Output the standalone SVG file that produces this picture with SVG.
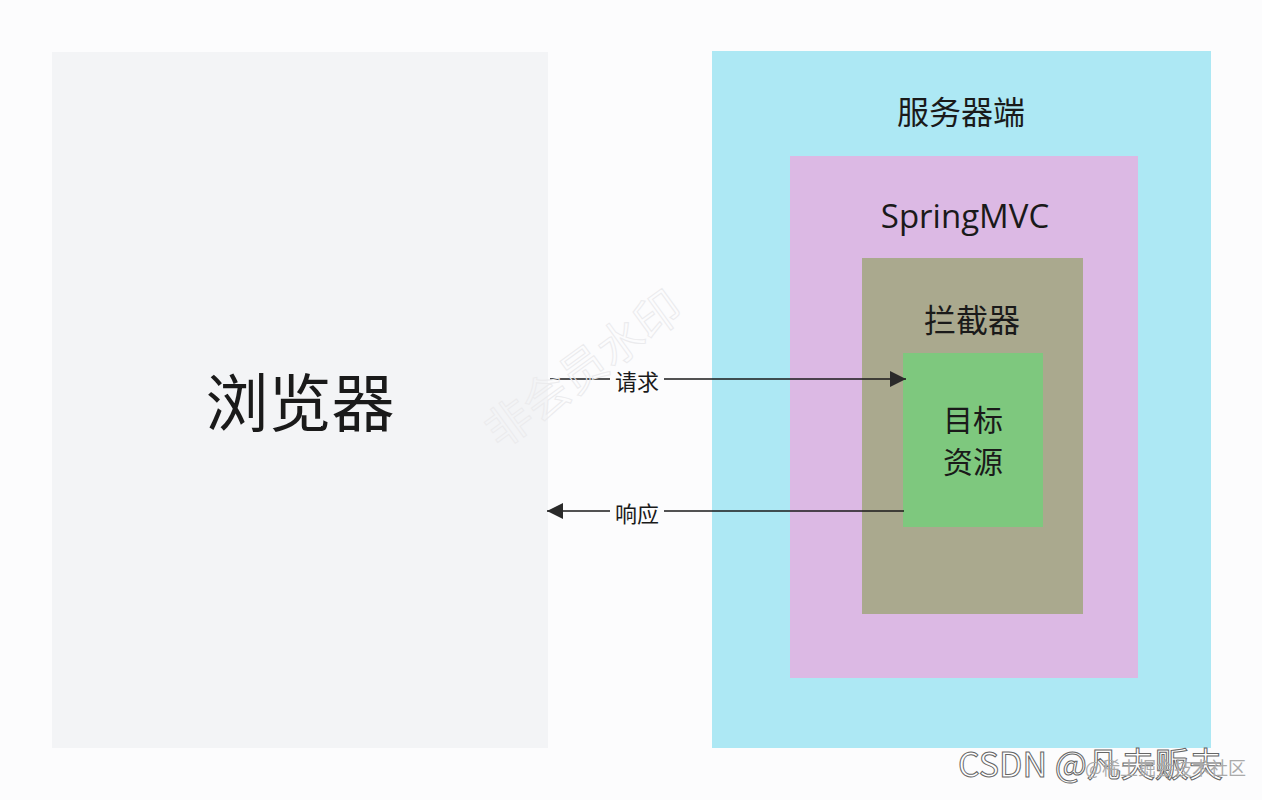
<svg xmlns="http://www.w3.org/2000/svg" width="1262" height="800" viewBox="0 0 1262 800">
<style>
.t{font-family:"Noto Sans CJK SC","Noto Sans",sans-serif;fill:#1a1a1a;text-anchor:middle}
.lbl{font-family:"Noto Sans CJK SC",sans-serif;font-size:22px;fill:#1a1a1a;text-anchor:middle}
.ln{stroke:#1a1a1a;stroke-width:1.6;fill:none}
</style>
<defs>
<marker id="ah" viewBox="0 0 10 10" refX="10" refY="5" markerWidth="26" markerHeight="16" markerUnits="userSpaceOnUse" orient="auto">
<path d="M0,0 L10,5 L0,10 Z" fill="#2a2a2a"/>
</marker>
</defs>
<rect width="1262" height="800" fill="#fcfcfd"/>
<g id="browser">
<rect x="52" y="52" width="496" height="696" fill="#f3f4f6"/>
<text class="t" x="300" y="426" font-size="63">浏览器</text>
</g>
<g id="server">
<rect x="712" y="51" width="499" height="697" fill="#ade8f4"/>
<text class="t" x="961" y="124" font-size="32">服务器端</text>
</g>
<g id="springmvc">
<rect x="790" y="156" width="348" height="522" fill="#dcb9e4"/>
<text class="t" x="965" y="228" font-size="33" style="font-family:'Open Sans','Noto Sans',sans-serif">SpringMVC</text>
</g>
<g id="interceptor">
<rect x="862" y="258" width="221" height="356" fill="#aaa98e"/>
<text class="t" x="972" y="332" font-size="32">拦截器</text>
</g>
<g id="target">
<rect x="903" y="353" width="140" height="174" fill="#7ec87e"/>
<text class="t" x="973" y="431" font-size="30">目标</text>
<text class="t" x="973" y="473" font-size="30">资源</text>
</g>
<g id="connectors">
<path class="ln" d="M550,379 H906" marker-end="url(#ah)"/>
<rect x="610" y="366" width="54" height="26" fill="#fcfcfd"/>
<text class="lbl" x="637" y="390">请求</text>
<path class="ln" d="M904,511 H547" marker-end="url(#ah)"/>
<rect x="610" y="498" width="54" height="26" fill="#fcfcfd"/>
<text class="lbl" x="637" y="522">响应</text>
</g>
<g id="watermark">
<text x="500" y="450" transform="rotate(-36 500 450)" font-family="Noto Sans CJK SC,sans-serif" font-size="46" fill="none" stroke="#ebebed" stroke-width="1">非会员水印</text>
<text x="958" y="777" font-family="Noto Sans CJK SC,sans-serif" font-size="34" fill="#ffffff" stroke="#666" stroke-width="1">CSDN @凡夫贩夫</text>
<text x="1085" y="775" font-family="Noto Sans CJK SC,sans-serif" font-size="18" fill="#aaa">@稀土掘金技术社区</text>
</g>
</svg>
